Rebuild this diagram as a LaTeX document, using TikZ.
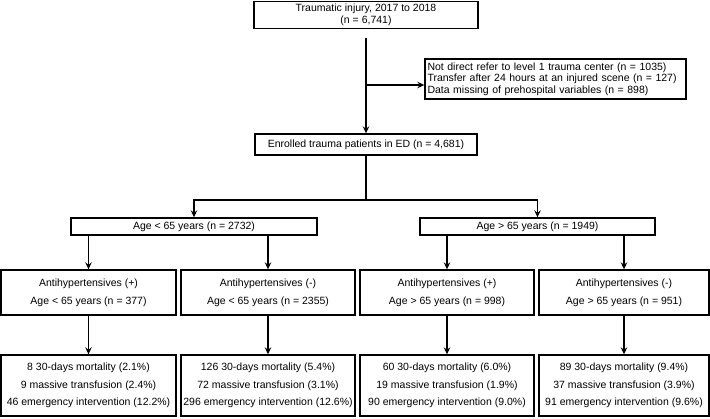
\documentclass[tikz,border=0pt]{standalone}
\usepackage{fontspec}
\setmainfont{Liberation Sans}
\usetikzlibrary{arrows.meta}
\tikzset{
  font={\fontsize{10.5pt}{12}\selectfont}}

\begin{document}
\begin{tikzpicture}[x=1pt, y=-1pt]

        \tikzset{link/.style = {->, > = {Stealth[length=7pt, width=6.5pt, inset=2.5pt]}, line width=1.3pt},
          box/.style = {draw=black, line width=1.4pt, rectangle, inner sep=0pt, align=center},
          groupbox/.style = {box, font={\fontsize{10.5pt}{18}\selectfont}, minimum height=45pt},
          resultbox/.style = {box, font={\fontsize{10.5pt}{17.5}\selectfont}, minimum height=61pt}}

        \useasboundingbox (0,0) rectangle (710,418);

        % boxes
        \node[box, minimum width=224pt, minimum height=27pt] (total)
            at (366,15) {Traumatic injury, 2017 to 2018\\(n = 6,741)};
        \node[box, align=left, text width=256pt, minimum width=261pt, minimum height=40pt,
            font={\fontsize{10.5pt}{11.5}\selectfont}] (excl)
            at (555.5,79) {Not direct refer to level 1 trauma center (n = 1035)\\Transfer after 24 hours at an injured scene (n = 127)\\Data missing of prehospital variables (n = 898)};
        \node[box, minimum width=222pt, minimum height=21pt] (enrolled)
            at (366,144.5) {Enrolled trauma patients in ED (n = 4,681)};
        \node[box, minimum width=246pt, minimum height=17pt] (young)
            at (194,226.5) {Age < 65 years (n = 2732)};
        \node[box, minimum width=235pt, minimum height=17pt] (old)
            at (537.5,226.5) {Age > 65 years (n = 1949)};

        \node[groupbox, minimum width=175pt] (m1) at (88.5,292.5) {Antihypertensives (+)\\Age < 65 years (n = 377)};
        \node[groupbox, minimum width=174pt] (m2) at (268,292.5) {Antihypertensives (-)\\Age < 65 years (n = 2355)};
        \node[groupbox, minimum width=174pt] (m3) at (447,292.5) {Antihypertensives (+)\\Age > 65 years (n = 998)};
        \node[groupbox, minimum width=170pt] (m4) at (624,292.5) {Antihypertensives (-)\\Age > 65 years (n = 951)};

        \node[resultbox, minimum width=175pt] (r1) at (88.5,385.5) {8 30-days mortality (2.1\%)\\9 massive transfusion (2.4\%)\\46 emergency intervention (12.2\%)};
        \node[resultbox, minimum width=174pt] (r2) at (268,385.5) {126 30-days mortality (5.4\%)\\72 massive transfusion (3.1\%)\\296 emergency intervention (12.6\%)};
        \node[resultbox, minimum width=174pt] (r3) at (447,385.5) {60 30-days mortality (6.0\%)\\19 massive transfusion (1.9\%)\\90 emergency intervention (9.0\%)};
        \node[resultbox, minimum width=170pt] (r4) at (624,385.5) {89 30-days mortality (9.4\%)\\37 massive transfusion (3.9\%)\\91 emergency intervention (9.6\%)};

        % edges
        \coordinate (split) at (366,85);
        \coordinate (fork) at (366,200);
        \draw[link, shorten <=9pt] (total) -- (enrolled);
        \draw[link] (split) -- (split -| excl.west);
        \draw[line width=1.3pt] (enrolled) -- (fork);
        \draw[link] (fork) -| (young);
        \draw[link] (fork) -| (old);
        \draw[link] (young.south -| m1) -- (m1);
        \draw[link] (young.south -| m2) -- (m2);
        \draw[link] (old.south -| m3) -- (m3);
        \draw[link] (old.south -| m4) -- (m4);
        \foreach \i in {1,...,4}
            \draw[link] (m\i) -- (r\i);

\end{tikzpicture}
\end{document}
